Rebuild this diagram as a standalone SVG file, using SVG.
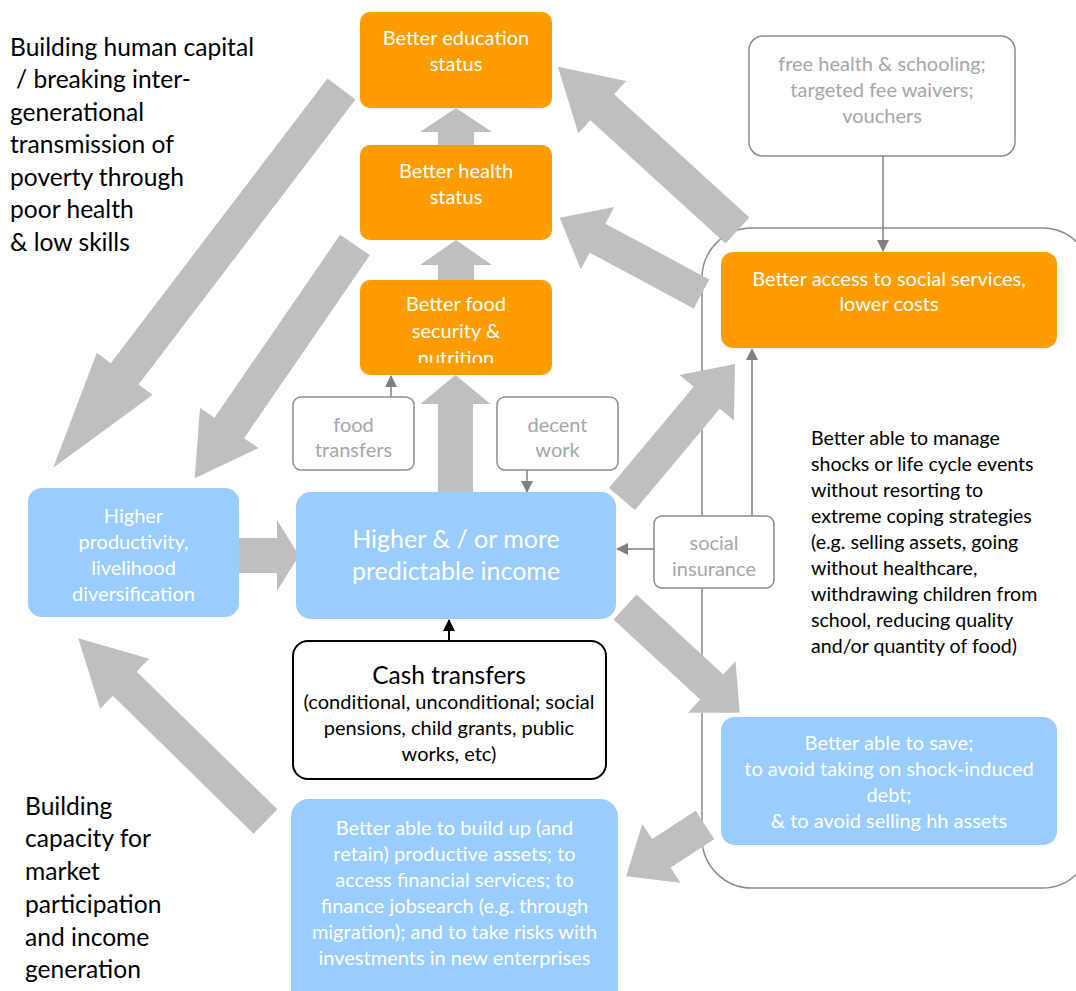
<svg xmlns="http://www.w3.org/2000/svg" width="1076" height="991" viewBox="0 0 1076 991">
<defs>
<style>
text{font-family:Lato,"Liberation Sans",sans-serif;}
.orange{fill:#FF9C00;}
.blue{fill:#99CCFF;}
.wt{fill:#FFFFFF;font-size:20px;text-anchor:middle;}
.gt{fill:#A6A6A6;font-size:20px;text-anchor:middle;}
.bt{fill:#000000;font-size:19.6px;}
.side{fill:#000000;font-size:24.6px;}
.gbox{fill:#FFFFFF;stroke:#8C8C8C;stroke-width:1.5;}
.big{fill:#BFBFBF;}
.thin{stroke:#808080;stroke-width:1.5;fill:none;}
</style>
<marker id="ah" viewBox="0 0 12 12" refX="11" refY="6" markerWidth="12" markerHeight="12" markerUnits="userSpaceOnUse" orient="auto">
<path d="M0,0 L12,6 L0,12 z" fill="#808080"/>
</marker>
<marker id="ahk" viewBox="0 0 12 12" refX="11" refY="6" markerWidth="12" markerHeight="12" markerUnits="userSpaceOnUse" orient="auto">
<path d="M0,0 L12,6 L0,12 z" fill="#000000"/>
</marker>
<clipPath id="foodclip"><rect x="360" y="280" width="192" height="83"/></clipPath>
</defs>
<rect width="1076" height="991" fill="#FFFFFF"/>

<g id="container">
<rect x="702" y="228" width="390" height="660" rx="50" fill="none" stroke="#8C8C8C" stroke-width="1.5"/>
</g>

<g id="connectors">
<line class="thin" x1="883" y1="156" x2="883" y2="251" marker-end="url(#ah)"/>
<line class="thin" x1="752" y1="516" x2="752" y2="349" marker-end="url(#ah)"/>
<line class="thin" x1="654" y1="549" x2="617" y2="549" marker-end="url(#ah)"/>
<line class="thin" x1="391" y1="397" x2="391" y2="376" marker-end="url(#ah)"/>
<line class="thin" x1="527" y1="470" x2="527" y2="492" marker-end="url(#ah)"/>
<line x1="449" y1="641" x2="449" y2="620" stroke="#000" stroke-width="2" marker-end="url(#ahk)"/>
<polygon class="big" transform="translate(341.5,89) rotate(127.28)" points="0,-17.5 358,-17.5 358,-35 476,0 358,35 358,17.5 0,17.5"/>
<polygon class="big" transform="translate(355,245) rotate(124.5)" points="0,-18 222,-18 222,-35.5 283,0 222,35.5 222,18 0,18"/>
<polygon class="big" transform="translate(737.5,230.5) rotate(-137.67)" points="0,-17.7 183,-17.7 183,-35.4 243,0 183,35.4 183,17.7 0,17.7"/>
<polygon class="big" transform="translate(701.5,294) rotate(-151.76)" points="0,-16.5 118,-16.5 118,-35.4 161,0 118,35.4 118,16.5 0,16.5"/>
<polygon class="big" transform="translate(622,499) rotate(-50.07)" points="0,-17 132,-17 132,-35.5 176,0 132,35.5 132,17 0,17"/>
<polygon class="big" transform="translate(625,607) rotate(42.67)" points="0,-17 118,-17 118,-35 156,0 118,35 118,17 0,17"/>
<polygon class="big" transform="translate(705,825) rotate(147)" points="0,-17 52,-17 52,-35 94,0 52,35 52,17 0,17"/>
<polygon class="big" transform="translate(265.5,821.5) rotate(-135.62)" points="0,-17 197,-17 197,-35 262,0 197,35 197,17 0,17"/>
<polygon class="big" transform="translate(239,555.5)" points="0,-17.5 38,-17.5 38,-35.5 60,0 38,35.5 38,17.5 0,17.5"/>
<polygon class="big" transform="translate(455.5,493) rotate(-90)" points="0,-17.5 89,-17.5 89,-35 118,0 89,35 89,17.5 0,17.5"/>
<polygon class="big" transform="translate(456,280) rotate(-90)" points="0,-18 15,-18 15,-36 40,0 15,36 15,18 0,18"/>
<polygon class="big" transform="translate(456,145) rotate(-90)" points="0,-18 13,-18 13,-36 37,0 13,36 13,18 0,18"/>
</g>

<g id="side-text-top">
<text class="side" x="10" y="56">Building human capital</text>
<text class="side" x="16" y="88">/ breaking inter-</text>
<text class="side" x="10" y="121">generational</text>
<text class="side" x="10" y="153">transmission of</text>
<text class="side" x="10" y="186">poverty through</text>
<text class="side" x="10" y="218">poor health</text>
<text class="side" x="10" y="251">&amp; low skills</text>
</g>

<g id="side-text-bottom">
<text class="side" x="25" y="815">Building</text>
<text class="side" x="25" y="847">capacity for</text>
<text class="side" x="25" y="880">market</text>
<text class="side" x="25" y="913">participation</text>
<text class="side" x="25" y="946">and income</text>
<text class="side" x="25" y="978">generation</text>
</g>

<g id="education">
<rect class="orange" x="360" y="12" width="192" height="96" rx="10"/>
<text class="wt" x="456" y="45">Better education</text>
<text class="wt" x="456" y="71">status</text>
</g>

<g id="health">
<rect class="orange" x="360" y="145" width="192" height="95" rx="10"/>
<text class="wt" x="456" y="178">Better health</text>
<text class="wt" x="456" y="204">status</text>
</g>

<g id="food">
<rect class="orange" x="360" y="280" width="192" height="95" rx="10"/>
<g clip-path="url(#foodclip)">
<text class="wt" x="456" y="311">Better food</text>
<text class="wt" x="456" y="338">security &amp;</text>
<text class="wt" x="456" y="365">nutrition</text>
</g>
</g>

<g id="food-transfers">
<rect class="gbox" x="293" y="397" width="121" height="73" rx="8"/>
<text class="gt" x="353.5" y="432">food</text>
<text class="gt" x="353.5" y="457">transfers</text>
</g>

<g id="decent-work">
<rect class="gbox" x="497" y="397" width="121" height="73" rx="8"/>
<text class="gt" x="557.5" y="432">decent</text>
<text class="gt" x="557.5" y="457">work</text>
</g>

<g id="free-health">
<rect class="gbox" x="749" y="36" width="266" height="120" rx="14"/>
<text class="gt" x="882" y="71">free health &amp; schooling;</text>
<text class="gt" x="882" y="97">targeted fee waivers;</text>
<text class="gt" x="882" y="123">vouchers</text>
</g>

<g id="access">
<rect class="orange" x="721" y="252" width="336" height="96" rx="12"/>
<text class="wt" x="889" y="286">Better access to social services,</text>
<text class="wt" x="889" y="311">lower costs</text>
</g>

<g id="productivity">
<rect class="blue" x="28" y="488" width="211" height="129" rx="14"/>
<text class="wt" x="133.5" y="523">Higher</text>
<text class="wt" x="133.5" y="549">productivity,</text>
<text class="wt" x="133.5" y="575">livelihood</text>
<text class="wt" x="133.5" y="601">diversification</text>
</g>

<g id="income">
<rect class="blue" x="296" y="492" width="320" height="127" rx="15"/>
<text class="wt" x="456" y="548" style="font-size:25px">Higher &amp; / or more</text>
<text class="wt" x="456" y="580" style="font-size:25px">predictable income</text>
</g>

<g id="social-insurance">
<rect class="gbox" x="654" y="516" width="120" height="72" rx="8"/>
<text class="gt" x="714" y="550">social</text>
<text class="gt" x="714" y="576">insurance</text>
</g>

<g id="manage-shocks">
<text class="bt" x="811" y="445">Better able to manage</text>
<text class="bt" x="811" y="471">shocks or life cycle events</text>
<text class="bt" x="811" y="497">without resorting to</text>
<text class="bt" x="811" y="523">extreme coping strategies</text>
<text class="bt" x="811" y="549">(e.g. selling assets, going</text>
<text class="bt" x="811" y="575">without healthcare,</text>
<text class="bt" x="811" y="601">withdrawing children from</text>
<text class="bt" x="811" y="627">school, reducing quality</text>
<text class="bt" x="811" y="653">and/or quantity of food)</text>
</g>

<g id="cash-transfers">
<rect x="293" y="641" width="313" height="138" rx="15" fill="#FFFFFF" stroke="#000000" stroke-width="2"/>
<text x="449" y="684" style="font-size:24.5px;text-anchor:middle;fill:#000">Cash transfers</text>
<text x="449" y="709" style="font-size:20px;text-anchor:middle;fill:#000">(conditional, unconditional; social</text>
<text x="449" y="735" style="font-size:20px;text-anchor:middle;fill:#000">pensions, child grants, public</text>
<text x="449" y="761" style="font-size:20px;text-anchor:middle;fill:#000">works, etc)</text>
</g>

<g id="save">
<rect class="blue" x="721" y="717" width="336" height="128" rx="14"/>
<text class="wt" x="889" y="750">Better able to save;</text>
<text class="wt" x="889" y="776">to avoid taking on shock-induced</text>
<text class="wt" x="889" y="802">debt;</text>
<text class="wt" x="889" y="828">&amp; to avoid selling hh assets</text>
</g>

<g id="assets">
<rect class="blue" x="291" y="799" width="327" height="220" rx="18"/>
<text class="wt" x="454.5" y="835">Better able to build up (and</text>
<text class="wt" x="454.5" y="861">retain) productive assets; to</text>
<text class="wt" x="454.5" y="887">access financial services; to</text>
<text class="wt" x="454.5" y="913">finance jobsearch (e.g. through</text>
<text class="wt" x="454.5" y="939">migration); and to take risks with</text>
<text class="wt" x="454.5" y="965">investments in new enterprises</text>
</g>
</svg>
